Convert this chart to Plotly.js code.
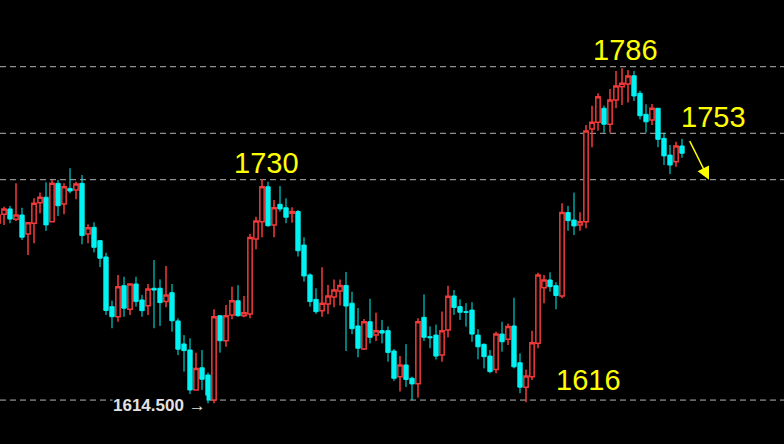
<!DOCTYPE html>
<html>
<head>
<meta charset="utf-8">
<script src="https://cdn.plot.ly/plotly-3.0.1.min.js"></script>
<style>html,body{margin:0;padding:0;background:#000;}#chart{width:784px;height:444px;}</style>
</head>
<body>
<div id="chart"></div>
<script>
const open = [1708.5,1712.9,1715.5,1710.4,1712.5,1703.1,1708.4,1718.6,1721.3,1709.2,
1728.2,1718.0,1725.7,1724.9,1728.2,1703.1,1706.4,1699.8,1691.7,1667.1,
1662.1,1677.5,1665.8,1678.3,1670.4,1667.6,1676.2,1676.2,1669.6,1674.0,
1660.0,1648.6,1645.6,1625.8,1636.8,1633.2,1620.8,1662.6,1650.2,1663.0,
1670.0,1662.6,1663.5,1700.6,1709.2,1726.5,1707.6,1717.8,1716.1,1713.4,
1714.2,1697.6,1682.8,1670.7,1665.1,1668.4,1671.9,1674.9,1677.6,1668.8,
1657.5,1646.1,1659.6,1653.0,1655.2,1655.2,1645.1,1632.4,1638.2,1631.6,
1628.9,1661.8,1652.2,1653.0,1643.1,1655.5,1672.4,1667.1,1664.6,1665.4,
1653.0,1648.4,1642.6,1636.0,1653.5,1650.9,1657.5,1639.3,1627.2,1632.4,
1648.9,1676.5,1680.3,1677.5,1672.4,1713.7,1710.0,1707.6,1709.2,1755.1,
1758.5,1765.4,1757.5,1769.5,1776.1,1777.4,1781.5,1772.8,1762.4,1759.6,
1765.4,1750.5,1742.2,1738.9,1746.7];
const high = [1715.0,1716.6,1717.0,1728.2,1716.1,1709.0,1720.8,1723.6,1728.7,1729.9,
1729.9,1728.2,1735.7,1729.0,1732.3,1707.9,1708.9,1700.0,1693.8,1670.1,
1682.8,1681.9,1678.5,1681.9,1672.9,1678.3,1690.2,1680.6,1687.2,1678.3,
1661.3,1653.0,1651.4,1644.3,1645.6,1634.4,1665.8,1662.8,1667.9,1677.0,
1677.7,1672.4,1703.1,1711.7,1730.2,1729.0,1719.9,1726.9,1720.8,1716.3,
1715.0,1701.5,1683.6,1676.2,1686.6,1677.8,1680.6,1680.6,1684.3,1674.5,
1666.4,1661.0,1671.0,1664.1,1660.5,1657.3,1646.1,1642.6,1648.5,1632.4,
1661.3,1673.2,1657.3,1658.2,1664.7,1677.5,1675.3,1670.7,1668.8,1669.3,
1655.9,1648.9,1645.6,1654.7,1659.6,1658.8,1671.5,1644.0,1636.0,1655.2,
1683.9,1682.8,1684.1,1679.2,1718.3,1717.0,1723.6,1713.9,1757.1,1766.7,
1772.8,1766.7,1775.0,1783.9,1785.2,1784.4,1783.9,1774.1,1767.4,1767.5,
1765.6,1753.3,1747.2,1748.8,1750.2];
const low = [1706.1,1707.6,1708.4,1709.5,1700.1,1692.7,1698.5,1713.4,1704.6,1708.9,
1712.0,1712.9,1723.3,1720.3,1698.0,1698.5,1694.0,1686.7,1663.0,1656.4,
1659.6,1662.1,1663.0,1667.1,1662.1,1663.0,1656.4,1657.5,1666.8,1654.7,
1643.1,1634.9,1623.8,1625.5,1625.8,1619.2,1619.2,1644.3,1647.2,1660.8,
1662.1,1661.8,1661.3,1695.5,1701.5,1706.7,1701.5,1714.2,1708.4,1708.7,
1691.9,1679.5,1667.1,1663.5,1662.1,1663.5,1666.8,1667.7,1645.1,1653.5,
1642.0,1645.6,1648.9,1650.1,1648.9,1639.8,1630.3,1625.0,1627.3,1620.8,
1622.1,1650.1,1646.5,1640.9,1639.8,1651.9,1663.0,1660.5,1657.2,1649.7,
1641.0,1636.5,1634.1,1634.1,1644.8,1648.1,1636.5,1624.2,1619.7,1630.8,
1646.5,1668.8,1674.5,1665.8,1671.2,1704.7,1702.6,1704.7,1705.9,1746.1,
1754.3,1753.3,1753.3,1765.4,1767.0,1768.2,1769.0,1759.9,1753.3,1757.1,
1746.1,1737.3,1732.8,1736.4,1740.9];
const close = [1712.5,1715.5,1710.5,1712.5,1701.5,1708.7,1718.3,1721.3,1707.6,1728.2,
1717.1,1726.5,1724.4,1727.9,1702.3,1706.2,1696.5,1691.1,1665.2,1662.1,
1677.0,1666.3,1678.3,1669.6,1665.1,1675.8,1675.3,1669.1,1672.9,1660.1,
1646.0,1645.3,1625.8,1636.5,1631.1,1620.8,1662.1,1650.2,1662.6,1670.0,
1662.6,1664.1,1701.3,1709.5,1726.5,1707.2,1716.1,1715.5,1711.4,1714.2,
1694.8,1682.3,1669.6,1664.6,1668.8,1672.4,1675.3,1677.6,1667.4,1656.2,
1646.5,1659.6,1651.9,1655.2,1654.0,1644.4,1631.6,1638.2,1631.0,1628.8,
1659.6,1651.9,1651.7,1642.6,1655.2,1672.2,1666.7,1664.3,1664.3,1653.5,
1647.2,1642.3,1634.9,1653.5,1649.7,1657.2,1637.3,1627.2,1632.7,1649.2,
1682.8,1680.3,1677.0,1672.6,1713.7,1709.7,1707.1,1709.2,1754.1,1758.5,
1771.1,1757.5,1769.5,1776.4,1777.8,1781.4,1771.5,1761.7,1758.7,1765.4,
1750.0,1741.8,1737.3,1746.7,1743.1];

// horizontal levels (dashed lines) and their label texts
const levels = [1786, 1753, 1730, 1620.8];
const labelTexts = ["1786", "1753", "1730", "1616"];
const priceTag = "1614.500";

const bars = open.map((_, i) => i);

const trace = {
  type: 'candlestick',
  x: bars, open: open, high: high, low: low, close: close,
  increasing: {line: {color: '#f23a3a', width: 1.5}, fillcolor: '#000000'},
  decreasing: {line: {color: '#00f2f2', width: 1}, fillcolor: '#00f2f2'},
  whiskerwidth: 0,
  hoverinfo: 'none'
};

const shapes = levels.map(v => ({
  type: 'line', xref: 'paper', x0: 0, x1: 1, yref: 'y', y0: v, y1: v,
  line: {color: '#b4b4b4', width: 1, dash: '6px,4px'}, layer: 'below'
}));

const bigFont = {family: 'Liberation Sans, Arial, sans-serif', size: 29, color: '#ffff00'};
const annotations = [
  {text: labelTexts[0], xref: 'paper', yref: 'paper', x: 625/784, y: 1 - 50/444, showarrow: false, font: bigFont, xanchor: 'center', yanchor: 'middle'},
  {text: labelTexts[1], xref: 'paper', yref: 'paper', x: 713/784, y: 1 - 117/444, showarrow: false, font: bigFont, xanchor: 'center', yanchor: 'middle'},
  {text: labelTexts[2], xref: 'paper', yref: 'paper', x: 266/784, y: 1 - 163/444, showarrow: false, font: bigFont, xanchor: 'center', yanchor: 'middle'},
  {text: labelTexts[3], xref: 'paper', yref: 'paper', x: 588/784, y: 1 - 380/444, showarrow: false, font: bigFont, xanchor: 'center', yanchor: 'middle'},
  {text: '<b>' + priceTag + ' →</b>', xref: 'paper', yref: 'paper', x: 159/784, y: 1 - 405/444, showarrow: false,
   font: {family: 'Liberation Sans, Arial, sans-serif', size: 17, color: '#e2e2e2'}, bgcolor: '#000000', borderpad: 0,
   xanchor: 'center', yanchor: 'middle'},
  {text: '', x: 118.5, y: 1730.0, xref: 'x', yref: 'y', showarrow: true, ax: -20, ay: -40,
   arrowcolor: '#ffff00', arrowwidth: 1.5, arrowhead: 2, arrowsize: 1.7}
];

const layout = {
  width: 784, height: 444,
  margin: {l: 0, r: 0, t: 0, b: 0},
  paper_bgcolor: '#000000', plot_bgcolor: '#000000',
  showlegend: false,
  boxgap: 0.28,
  boxgroupgap: 0,
  xaxis: {range: [0.333, 131], visible: false, showgrid: false, zeroline: false, rangeslider: {visible: false}, fixedrange: true},
  yaxis: {range: [1599.03, 1819.05], visible: false, showgrid: false, zeroline: false, fixedrange: true},
  shapes: shapes,
  annotations: annotations
};

Plotly.newPlot('chart', [trace], layout, {displayModeBar: false, staticPlot: true});
</script>
</body>
</html>
